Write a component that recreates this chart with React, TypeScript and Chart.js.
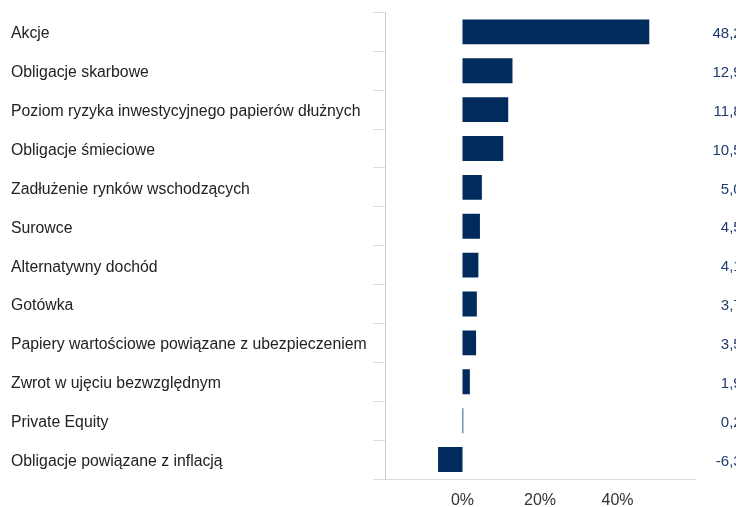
import React, { useEffect, useRef } from "react";
import { Chart, registerables } from "chart.js";

Chart.register(...registerables);

const categories: string[] = [
  "Akcje",
  "Obligacje skarbowe",
  "Poziom ryzyka inwestycyjnego papierów dłużnych",
  "Obligacje śmieciowe",
  "Zadłużenie rynków wschodzących",
  "Surowce",
  "Alternatywny dochód",
  "Gotówka",
  "Papiery wartościowe powiązane z ubezpieczeniem",
  "Zwrot w ujęciu bezwzględnym",
  "Private Equity",
  "Obligacje powiązane z inflacją",
];

const values: number[] = [48.2, 12.9, 11.8, 10.5, 5.0, 4.5, 4.1, 3.7, 3.5, 1.9, 0.2, -6.3];

const xTickValues: number[] = [0, 20, 40];

const FONT = "'Liberation Sans', Arial, Helvetica, sans-serif";
const BAR_COLOR = "#002b5c";

const valueLabelPlugin = {
  id: "valueLabels",
  afterDatasetsDraw(chart: any) {
    const ctx = chart.ctx;
    const yScale = chart.scales.y;
    ctx.save();
    ctx.font = `15px ${FONT}`;
    ctx.fillStyle = "#1f3a6e";
    ctx.textAlign = "right";
    ctx.textBaseline = "middle";
    const xRight = chart.chartArea.right + 60;
    values.forEach((v, i) => {
      const y = yScale.getPixelForValue(i) + 2;
      const txt = v.toFixed(1).replace(".", ",") + "%";
      ctx.fillText(txt, xRight, y);
    });
    ctx.restore();
  },
};

export default function App() {
  const canvasRef = useRef<HTMLCanvasElement | null>(null);

  useEffect(() => {
    if (!canvasRef.current) return;
    const chart = new Chart(canvasRef.current, {
      type: "bar",
      data: {
        labels: categories,
        datasets: [
          {
            data: values,
            backgroundColor: BAR_COLOR,
            borderWidth: 0,
            categoryPercentage: 1,
            barPercentage: 0.64,
          },
        ],
      },
      options: {
        indexAxis: "y",
        animation: false,
        responsive: true,
        maintainAspectRatio: false,
        layout: { padding: { left: 11, top: 12, right: 41, bottom: 0 } },
        plugins: {
          legend: { display: false },
          tooltip: { enabled: false },
        },
        scales: {
          x: {
            type: "linear",
            min: -20,
            max: 60,
            afterBuildTicks: (scale: any) => {
              scale.ticks = [-20, ...xTickValues, 60].map((v) => ({ value: v }));
            },
            grid: { display: false, drawTicks: false },
            border: { display: true, color: "#d9dce4", width: 1 },
            ticks: {
              padding: 12,
              font: { family: FONT, size: 16 },
              color: "#333333",
              maxRotation: 0,
              callback: (v: any) => (xTickValues.includes(Number(v)) ? `${v}%` : ""),
            },
            afterFit: (scale: any) => {
              scale.height = 28;
            },
          },
          y: {
            type: "category",
            offset: true,
            grid: {
              display: true,
              offset: true,
              drawOnChartArea: false,
              drawTicks: true,
              tickLength: 12,
              color: "#d8deeb",
            },
            border: { display: true, color: "#cccccc", width: 1 },
            ticks: {
              crossAlign: "far",
              padding: 3,
              labelOffset: 2,
              font: { family: FONT, size: 15.8 },
              color: "#222222",
              autoSkip: false,
            },
            afterFit: (scale: any) => {
              scale.width = 374;
            },
          },
        },
      },
      plugins: [valueLabelPlugin],
    } as any);
    return () => chart.destroy();
  }, []);

  return (
    <div
      style={{
        position: "fixed",
        left: 0,
        top: 0,
        width: "736px",
        height: "507px",
        background: "#ffffff",
      }}
    >
      <canvas ref={canvasRef} />
    </div>
  );
}
